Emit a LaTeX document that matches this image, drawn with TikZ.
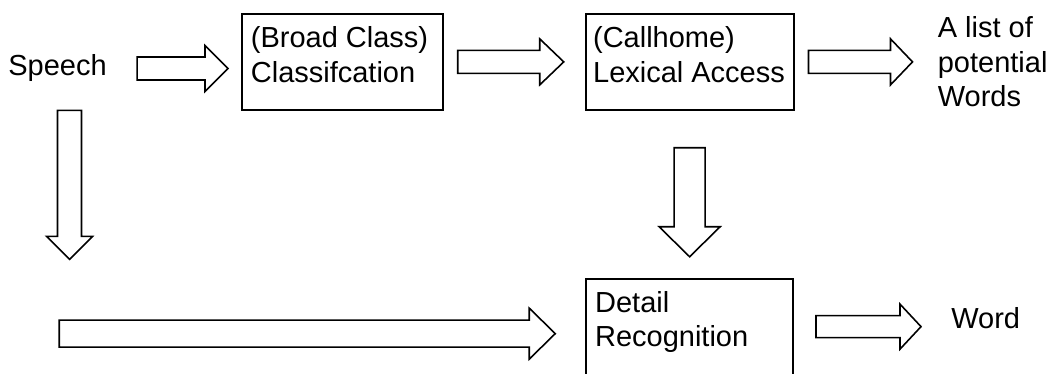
\documentclass[tikz,border=0pt]{standalone}
\usepackage{fontspec}
\setmainfont{Liberation Sans}
\usetikzlibrary{calc, positioning}

\begin{document}
\begin{tikzpicture}[
            font = \fontsize{16.5}{19.5}\selectfont,
            fat shaft/.store in = \fatshaft, fat shaft = 0.23cm,
            fat head/.store in = \fathead, fat head = 0.46cm,
            fat length/.store in = \fatlength, fat length = 0.46cm
        ]

        \tikzstyle{stage}=[
            draw,
            line width = 1pt,
            inner xsep = 0.18cm,
            inner ysep = 0.2cm
        ]
        \tikzstyle{plain}=[inner sep = 0pt]
        \tikzstyle{fat arrow}=[
            draw,
            line width = 0.9pt,
            line join = miter,
            to path = {
                (\tikztostart) coordinate (fat tail)
                (\tikztotarget) coordinate (fat tip)
                ($(fat tip)!\fatlength!(fat tail)$) coordinate (fat base)
                ($(fat tail)!\fatshaft!90:(fat tip)$)
                -- ($(fat base)!\fatshaft!90:(fat tip)$)
                -- ($(fat base)!\fathead!90:(fat tip)$)
                -- (fat tip)
                -- ($(fat base)!\fathead!-90:(fat tip)$)
                -- ($(fat base)!\fatshaft!-90:(fat tip)$)
                -- ($(fat tail)!\fatshaft!-90:(fat tip)$)
                -- cycle
            }
        ]

        \useasboundingbox (0,0) rectangle (21,-7.48);

        \node[plain, anchor=base west] (speech) at (0.16,-1.52) {Speech};
        \node[stage, anchor=north west] (cls) at (4.82,-0.26)
            {\parbox[c][1.52cm][t]{3.66cm}{\raggedright\strut(Broad Class)\\Classifcation}};
        \node[stage, inner xsep=0.15cm, right=2.82cm of cls] (lex)
            {\parbox[c][1.52cm][t]{3.86cm}{\raggedright\strut(Callhome)\\Lexical Access}};
        \node[plain, align=left, right=2.86cm of lex] (list) {A list of\\potential\\Words};
        \node[stage, below=3.34cm of lex] (det)
            {\parbox[c][1.52cm][t]{3.78cm}{\raggedright\strut Detail\\Recognition}};
        \node[plain, right=3.14cm of det, yshift=0.16cm] (word) {Word};

        \coordinate (cls in) at (speech.east -| cls.west);
        \coordinate (drop) at ([shift={(0.24,-3.54)}]speech.south);
        \coordinate (feed) at ([shift={(-10.52,-0.14)}]det.west);
        \coordinate (word in) at (det.east -| word.west);

        \draw[fat arrow] ([xshift=0.6cm]speech.east) to ([xshift=-0.26cm]cls in);
        \draw[fat arrow, fat length=0.48cm] ([xshift=0.28cm]cls.east) to ([xshift=-0.42cm]lex.west);
        \draw[fat arrow, fat length=0.44cm] ([xshift=0.28cm]lex.east) to ([xshift=-0.5cm]list.west);
        \draw[fat arrow, fat shaft=0.24cm] ([shift={(0.24,-0.56)}]speech.south) to (drop);
        \draw[fat arrow, fat shaft=0.31cm, fat head=0.61cm, fat length=0.6cm]
            ([yshift=-0.74cm]lex.south) to ([yshift=0.42cm]det.north);
        \draw[fat arrow, fat shaft=0.27cm, fat head=0.51cm, fat length=0.52cm]
            (feed) to ([shift={(-0.6,-0.14)}]det.west);
        \draw[fat arrow, fat shaft=0.22cm, fat head=0.45cm, fat length=0.42cm]
            ([xshift=0.44cm]det.east) to ([xshift=-0.6cm]word in);
    \end{tikzpicture}
\end{document}
